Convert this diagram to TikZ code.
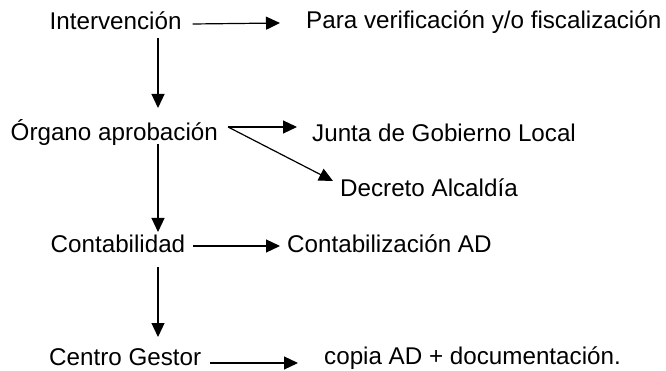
\documentclass[tikz,border=0pt]{standalone}
\usepackage{fontspec}
\setmainfont{Liberation Sans}
\usetikzlibrary{arrows.meta}

\begin{document}
\begin{tikzpicture}[x=1pt,y=-1pt,
	lbl/.style={anchor=base west, inner sep=0pt, font=\fontsize{24.2}{29}\selectfont},
	arr/.style={line width=1.2pt, -{Triangle[length=14pt,width=13pt]}}]
	\useasboundingbox (0,0) rectangle (666,371);
	\coordinate (col) at (158,0);

	\node[lbl] (interv) at (49.5,30) {Intervención};
	\node[lbl] (para) at (306,29) {Para verificación y/o fiscalización};
	\node[lbl] (organo) at (10.5,141) {Órgano aprobación};
	\node[lbl] (junta) at (312,142) {Junta de Gobierno Local};
	\node[lbl] (decreto) at (340,197) {Decreto Alcaldía};
	\node[lbl] (contab) at (50.5,253) {Contabilidad};
	\node[lbl] (contabiliz) at (287,253) {Contabilización AD};
	\node[lbl] (centro) at (49,365) {Centro Gestor};
	\node[lbl] (copia) at (324,364) {copia AD + documentación.};

	\draw[arr] ([xshift=11pt,yshift=6pt]interv.base east) -- ([xshift=-26pt,yshift=6pt]para.base west);
	\draw[arr] ([yshift=-8pt]col |- interv.base) -- ([yshift=33pt]col |- organo.base);

	\draw[arr] ([xshift=10pt,yshift=14pt]organo.base east) -- ([xshift=-15pt,yshift=15pt]junta.base west);
	\draw[arr] ([xshift=10pt,yshift=14pt]organo.base east) -- ([xshift=-7pt,yshift=16pt]decreto.base west);
	\draw[arr] ([yshift=-3pt]col |- organo.base) -- ([yshift=21pt]col |- contab.base);

	\draw[arr] ([xshift=8pt,yshift=7pt]contab.base east) -- ([xshift=-7pt,yshift=7pt]contabiliz.base west);
	\draw[arr] ([yshift=-14pt]col |- contab.base) -- ([yshift=28pt]col |- centro.base);

	\draw[arr] ([xshift=9pt,yshift=2pt]centro.base east) -- ([xshift=-26pt,yshift=1pt]copia.base west);
\end{tikzpicture}
\end{document}
